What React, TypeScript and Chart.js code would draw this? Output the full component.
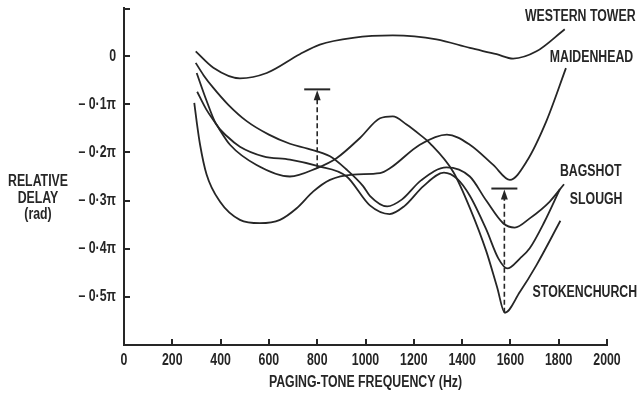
import React, { useEffect, useRef } from "react";
import { Chart, registerables } from "chart.js";

Chart.register(...registerables);

// ---------- data (frequency in Hz, relative delay in units of π rad) ----------
const freqTicks = [0, 200, 400, 600, 800, 1000, 1200, 1400, 1600, 1800, 2000];
const delayTicks = [0, -0.1, -0.2, -0.3, -0.4, -0.5];

const westernTowerHz = [297, 370, 480, 591, 728, 811, 948, 1113, 1294, 1432, 1543, 1611, 1708, 1825];
const westernTowerDelay = [0.01, -0.024, -0.046, -0.035, 0.004, 0.024, 0.038, 0.043, 0.035, 0.017, 0.004, -0.005, 0.01, 0.056];

const maidenheadHz = [291, 302, 315, 342, 397, 480, 563, 646, 715, 784, 853, 949, 1060, 1101, 1225, 1337, 1432, 1529, 1598, 1667, 1749, 1830];
const maidenheadDelay = [-0.097, -0.14, -0.184, -0.246, -0.302, -0.34, -0.347, -0.34, -0.316, -0.281, -0.257, -0.246, -0.243, -0.233, -0.184, -0.163, -0.184, -0.226, -0.257, -0.219, -0.135, -0.025];

const bagshotHz = [297, 330, 370, 430, 508, 600, 687, 760, 853, 920, 990, 1018, 1090, 1150, 1230, 1335, 1432, 1500, 1570, 1618, 1680, 1763, 1822];
const bagshotDelay = [-0.014, -0.04, -0.066, -0.1, -0.135, -0.163, -0.182, -0.192, -0.208, -0.235, -0.27, -0.29, -0.312, -0.298, -0.258, -0.231, -0.25, -0.3, -0.347, -0.356, -0.337, -0.302, -0.266];

const sloughHz = [301, 340, 380, 430, 480, 577, 687, 800, 922, 1018, 1100, 1160, 1240, 1325, 1380, 1432, 1500, 1550, 1587, 1640, 1680, 1740, 1805];
const sloughDelay = [-0.035, -0.09, -0.14, -0.168, -0.188, -0.208, -0.215, -0.228, -0.25, -0.31, -0.328, -0.312, -0.27, -0.242, -0.255, -0.29, -0.36, -0.42, -0.441, -0.42, -0.399, -0.345, -0.276];

const stokenchurchHz = [303, 340, 380, 439, 549, 687, 797, 880, 977, 1060, 1113, 1170, 1225, 1267, 1363, 1432, 1500, 1545, 1577, 1639, 1708, 1807];
const stokenchurchDelay = [-0.074, -0.11, -0.14, -0.184, -0.226, -0.25, -0.233, -0.212, -0.17, -0.129, -0.125, -0.142, -0.163, -0.181, -0.24, -0.315, -0.405, -0.48, -0.533, -0.49, -0.434, -0.342];

// dashed measurement arrows
const arrowHz = [800, 1575];
const arrowFromDelay = [-0.233, -0.533];
const arrowToDelay = [-0.069, -0.275];

// curve name labels (anchor in data coordinates)
const labelNames = ["WESTERN TOWER", "MAIDENHEAD", "BAGSHOT", "SLOUGH", "STOKENCHURCH"];
const labelHz = [1660, 1763, 1805, 1846, 1692];
const labelDelay = [0.083, -0.004, -0.24, -0.298, -0.491];

const xTitle = "PAGING-TONE FREQUENCY (Hz)";
const yTitle = ["RELATIVE", "DELAY", "(rad)"];

// ---------- styling ----------
const INK = "#262626";
const FONT = 'bold 16px "Liberation Sans", Arial, sans-serif';
const SQUEEZE = 0.77; // condensed lettering

const zip = (xs: number[], ys: number[]) => xs.map((x, i) => ({ x, y: ys[i] }));

const series = [
  { name: "Western Tower", hz: westernTowerHz, d: westernTowerDelay },
  { name: "Maidenhead", hz: maidenheadHz, d: maidenheadDelay },
  { name: "Bagshot", hz: bagshotHz, d: bagshotDelay },
  { name: "Slough", hz: sloughHz, d: sloughDelay },
  { name: "Stokenchurch", hz: stokenchurchHz, d: stokenchurchDelay },
];

const delayLabel = (v: number) => {
  const n = Math.round(-v * 10);
  return n === 0 ? "0" : `\u2013 0\u00b7${n}\u03c0`;
};

function drawText(ctx: CanvasRenderingContext2D, text: string, x: number, y: number, align: CanvasTextAlign) {
  ctx.save();
  ctx.translate(x, y);
  ctx.scale(SQUEEZE, 1);
  ctx.font = FONT;
  ctx.textAlign = align;
  ctx.textBaseline = "middle";
  ctx.fillText(text, 0, 0);
  ctx.restore();
}

const overlayPlugin = {
  id: "overlay",
  afterDraw(chart: any) {
    const { ctx, chartArea } = chart;
    const x = chart.scales.x;
    const y = chart.scales.y;
    ctx.save();
    ctx.strokeStyle = INK;
    ctx.fillStyle = INK;

    // inward tick marks
    ctx.lineWidth = 2;
    ctx.beginPath();
    freqTicks.forEach((v) => {
      if (v === 0) return;
      const px = Math.round(x.getPixelForValue(v));
      ctx.moveTo(px, chartArea.bottom);
      ctx.lineTo(px, chartArea.bottom - 6);
    });
    [...delayTicks, y.max].forEach((v) => {
      const py = Math.round(y.getPixelForValue(v)) + (v === y.max ? 1 : 0);
      ctx.moveTo(chartArea.left, py);
      ctx.lineTo(chartArea.left + 6, py);
    });
    ctx.stroke();

    // tick labels
    freqTicks.forEach((v) => drawText(ctx, String(v), x.getPixelForValue(v), chartArea.bottom + 16, "center"));
    delayTicks.forEach((v) => drawText(ctx, delayLabel(v), chartArea.left - 8, y.getPixelForValue(v), "right"));

    // axis titles
    drawText(ctx, xTitle, (chartArea.left + chartArea.right) / 2, chartArea.bottom + 38, "center");
    yTitle.forEach((t, i) => drawText(ctx, t, 38, 182 + i * 16.5, "center"));

    // arrows
    arrowHz.forEach((hz, i) => {
      const px = x.getPixelForValue(hz);
      const yFrom = y.getPixelForValue(arrowFromDelay[i]);
      const yTo = y.getPixelForValue(arrowToDelay[i]);
      ctx.lineWidth = 1.6;
      ctx.setLineDash([5, 3]);
      ctx.beginPath();
      ctx.moveTo(px, yFrom);
      ctx.lineTo(px, yTo + 9);
      ctx.stroke();
      ctx.setLineDash([]);
      ctx.beginPath();
      ctx.moveTo(px, yTo + 1);
      ctx.lineTo(px - 3.5, yTo + 11);
      ctx.lineTo(px + 3.5, yTo + 11);
      ctx.closePath();
      ctx.fill();
      ctx.lineWidth = 2;
      ctx.beginPath();
      ctx.moveTo(px - 13, yTo);
      ctx.lineTo(px + 13, yTo);
      ctx.stroke();
    });

    // curve labels
    labelNames.forEach((t, i) => drawText(ctx, t, x.getPixelForValue(labelHz[i]), y.getPixelForValue(labelDelay[i]), "left"));
    ctx.restore();
  },
};

export default function App() {
  const ref = useRef<HTMLCanvasElement>(null);

  useEffect(() => {
    const chart = new Chart(ref.current!, {
      type: "scatter",
      data: {
        datasets: series.map((s) => ({
          label: s.name,
          data: zip(s.hz, s.d),
          showLine: true,
          borderColor: INK,
          borderWidth: 1.8,
          pointRadius: 0,
          pointHoverRadius: 0,
          cubicInterpolationMode: "monotone" as const,
          fill: false,
        })),
      },
      options: {
        responsive: false,
        devicePixelRatio: 1,
        animation: false,
        layout: { padding: { top: 8, right: 32, left: 0, bottom: 0 } },
        plugins: { legend: { display: false }, tooltip: { enabled: false } },
        scales: {
          x: {
            type: "linear",
            min: 0,
            max: 2000,
            afterBuildTicks: (s: any) => {
              s.ticks = freqTicks.map((v) => ({ value: v }));
            },
            afterFit: (s: any) => {
              s.height = 53;
            },
            grid: { display: false, drawTicks: false },
            border: { display: true, width: 2, color: INK },
            ticks: { display: false },
          },
          y: {
            type: "linear",
            min: -0.6,
            max: 0.1,
            afterBuildTicks: (s: any) => {
              s.ticks = delayTicks.map((v) => ({ value: v }));
            },
            afterFit: (s: any) => {
              s.width = 124;
            },
            grid: { display: false, drawTicks: false },
            border: { display: true, width: 2, color: INK },
            ticks: { display: false },
          },
        },
      },
      plugins: [overlayPlugin],
    });
    return () => chart.destroy();
  }, []);

  return (
    <div style={{ position: "fixed", left: 0, top: 0, width: 639, height: 398, background: "#fff" }}>
      <canvas ref={ref} width={639} height={398} style={{ display: "block", width: 639, height: 398 }} />
    </div>
  );
}
